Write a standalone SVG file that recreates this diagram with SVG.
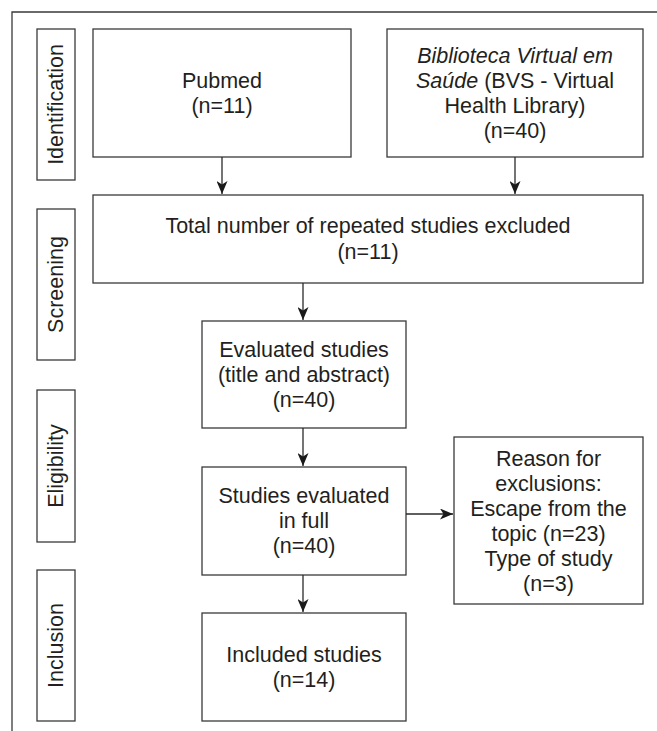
<svg xmlns="http://www.w3.org/2000/svg" width="657" height="731" viewBox="0 0 657 731">
<defs>
<style>
.box{fill:#fff;stroke:#3a3a3a;stroke-width:1.3}
.t{font-family:"Liberation Sans",Arial,Helvetica,sans-serif;font-size:21.5px;fill:#231f20;text-anchor:middle}
.c{stroke:#2a2a2a;stroke-width:1.3;fill:none;marker-end:url(#ah)}
.frame{stroke:#3a3a3a;stroke-width:1.3;fill:none}
</style>
<marker id="ah" viewBox="0 0 13 11" refX="13" refY="5.5" markerWidth="13" markerHeight="11" markerUnits="userSpaceOnUse" orient="auto">
<path d="M0,0 L13,5.5 L0,11 L3.5,5.5 z" fill="#1a1a1a"/>
</marker>
</defs>
<rect width="657" height="731" fill="#fff"/>
<path class="frame" d="M12,731 L12,12 L657,12"/>
<g id="stage-identification">
<rect class="box" x="37" y="29" width="38" height="151"/>
<text class="t" transform="translate(62.5,104.5) rotate(-90)">Identification</text>
</g>
<g id="stage-screening">
<rect class="box" x="37" y="209" width="38" height="151"/>
<text class="t" transform="translate(62.5,284.5) rotate(-90)">Screening</text>
</g>
<g id="stage-eligibility">
<rect class="box" x="37" y="390" width="38" height="152"/>
<text class="t" transform="translate(62.5,466) rotate(-90)">Eligibility</text>
</g>
<g id="stage-inclusion">
<rect class="box" x="37" y="570" width="38" height="151"/>
<text class="t" transform="translate(62.5,645.5) rotate(-90)">Inclusion</text>
</g>
<g id="pubmed">
<rect class="box" x="93" y="29" width="258" height="128"/>
<text class="t" x="222" y="88">Pubmed</text>
<text class="t" x="222" y="113">(n=11)</text>
</g>
<g id="bvs">
<rect class="box" x="387" y="29" width="256" height="128"/>
<text class="t" x="515" y="63" font-style="italic">Biblioteca Virtual em</text>
<text class="t" x="515" y="88"><tspan font-style="italic">Saúde</tspan> (BVS - Virtual</text>
<text class="t" x="515" y="113">Health Library)</text>
<text class="t" x="515" y="138">(n=40)</text>
</g>
<g id="repeated">
<rect class="box" x="93" y="195" width="550" height="88"/>
<text class="t" x="368" y="233">Total number of repeated studies excluded</text>
<text class="t" x="368" y="259">(n=11)</text>
</g>
<g id="evaluated">
<rect class="box" x="202" y="321" width="204" height="107"/>
<text class="t" x="304" y="357">Evaluated studies</text>
<text class="t" x="304" y="382">(title and abstract)</text>
<text class="t" x="304" y="407">(n=40)</text>
</g>
<g id="full">
<rect class="box" x="202" y="467" width="204" height="108"/>
<text class="t" x="304" y="503">Studies evaluated</text>
<text class="t" x="304" y="528">in full</text>
<text class="t" x="304" y="553">(n=40)</text>
</g>
<g id="included">
<rect class="box" x="202" y="613" width="204" height="108"/>
<text class="t" x="304" y="662">Included studies</text>
<text class="t" x="304" y="687">(n=14)</text>
</g>
<g id="reasons">
<rect class="box" x="454" y="437" width="189" height="167"/>
<text class="t" x="548.5" y="466">Reason for</text>
<text class="t" x="548.5" y="491">exclusions:</text>
<text class="t" x="548.5" y="516">Escape from the</text>
<text class="t" x="548.5" y="541">topic (n=23)</text>
<text class="t" x="548.5" y="566">Type of study</text>
<text class="t" x="548.5" y="591">(n=3)</text>
</g>
<g id="connectors">
<line class="c" x1="222" y1="157" x2="222" y2="194"/>
<line class="c" x1="515" y1="157" x2="515" y2="194"/>
<line class="c" x1="303" y1="283" x2="303" y2="320"/>
<line class="c" x1="303" y1="428" x2="303" y2="466"/>
<line class="c" x1="303" y1="575" x2="303" y2="612"/>
<line class="c" x1="406" y1="514" x2="453" y2="514"/>
</g>
</svg>
